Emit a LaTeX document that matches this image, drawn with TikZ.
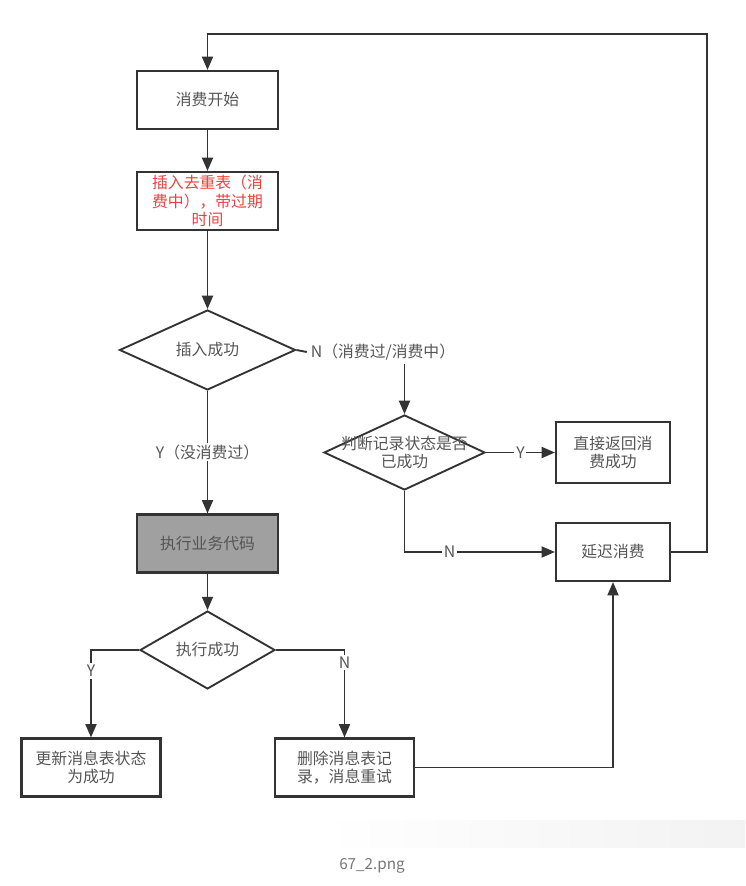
\documentclass[tikz,border=0pt]{standalone}
\usepackage{fontspec}
\setmainfont{Noto Sans CJK SC}
\usetikzlibrary{arrows.meta,shapes.geometric}
\definecolor{linegray}{HTML}{333333}
\definecolor{textgray}{HTML}{555555}
\definecolor{redtext}{HTML}{E8423F}
\definecolor{fillgray}{HTML}{A0A0A0}
\definecolor{captiongray}{HTML}{777777}
\begin{document}
\begin{tikzpicture}[x=0.3mm,y=-0.3mm,
  font=\fontsize{13.5}{16}\selectfont,text=textgray,
  box/.style={draw=linegray,line width=1.8pt,minimum width=42.3mm,minimum height=17.4mm,align=center,inner sep=0pt},
  dia/.style={diamond,draw=linegray,line width=1.6pt,inner sep=0pt},
  line/.style={draw=linegray,line width=1.6pt},
  arr/.style={line,-{Triangle[length=4mm,width=3.3mm]}},
  lab/.style={fill=white,inner sep=1.5pt}]
\useasboundingbox (0,0) rectangle (745,886);
\shade[left color=white,right color=black!5] (320,820) rectangle (745,847);

\node[box] (start) at (207.5,100) {消费开始};
\node[box,text=redtext] (insert) at (207.5,201) {插入去重表（消\\费中），带过期\\时间};
\node[dia,minimum width=52.8mm,minimum height=24mm] (ok1) at (207.5,350) {插入成功};
\node (nlab) at (383,352) {N（消费过/消费中）};
\node[dia,minimum width=48.3mm,minimum height=22.5mm] (check) at (404.5,452.5) {};
\node[align=center] (checktxt) at (check) {判断记录状态是否\\已成功};
\node[box,minimum width=34.2mm,minimum height=18.3mm] (direct) at (613,452.5) {直接返回消\\费成功};
\node[box,minimum width=34.2mm] (delay) at (613,552) {延迟消费};
\node[box,fill=fillgray] (exec) at (207.5,543.5) {执行业务代码};
\node[dia,minimum width=40.5mm,minimum height=22.5mm] (ok2) at (207.5,650) {执行成功};
\node[box,minimum width=41.7mm] (update) at (91,767.5) {更新消息表状态\\为成功};
\node[box,minimum width=41.7mm] (retry) at (344.5,767.5) {删除消息表记\\录，消息重试};
\coordinate (loop) at (707,34);

\draw[arr] (start) -- (insert);
\draw[arr] (insert) -- (ok1);
\draw[line] (ok1.east) -- (nlab.west);
\draw[arr] (nlab.south -| check.north) -- (check.north);
\draw[arr] (ok1) -- node[lab] (ylab) {Y（没消费过）} (exec);
\draw[arr] (check) -- node[lab] (ylab2) {Y} (direct);
\draw[arr] (check) |- node[lab,pos=0.65] (nlab2) {N} (delay);
\draw[arr] (delay.east) -| (loop) -| (start.north);
\draw[arr] (exec) -- (ok2);
\draw[arr] (ok2) -| node[lab,pos=0.62] (ylab3) {Y} (update);
\draw[arr] (ok2) -| node[lab,pos=0.57] (nlab3) {N} (retry);
\draw[arr] (retry) -| (delay);

\node[text=captiongray,font=\fontsize{13}{15}\selectfont] (caption) at (372,866) {67\_2.png};
\end{tikzpicture}
\end{document}
